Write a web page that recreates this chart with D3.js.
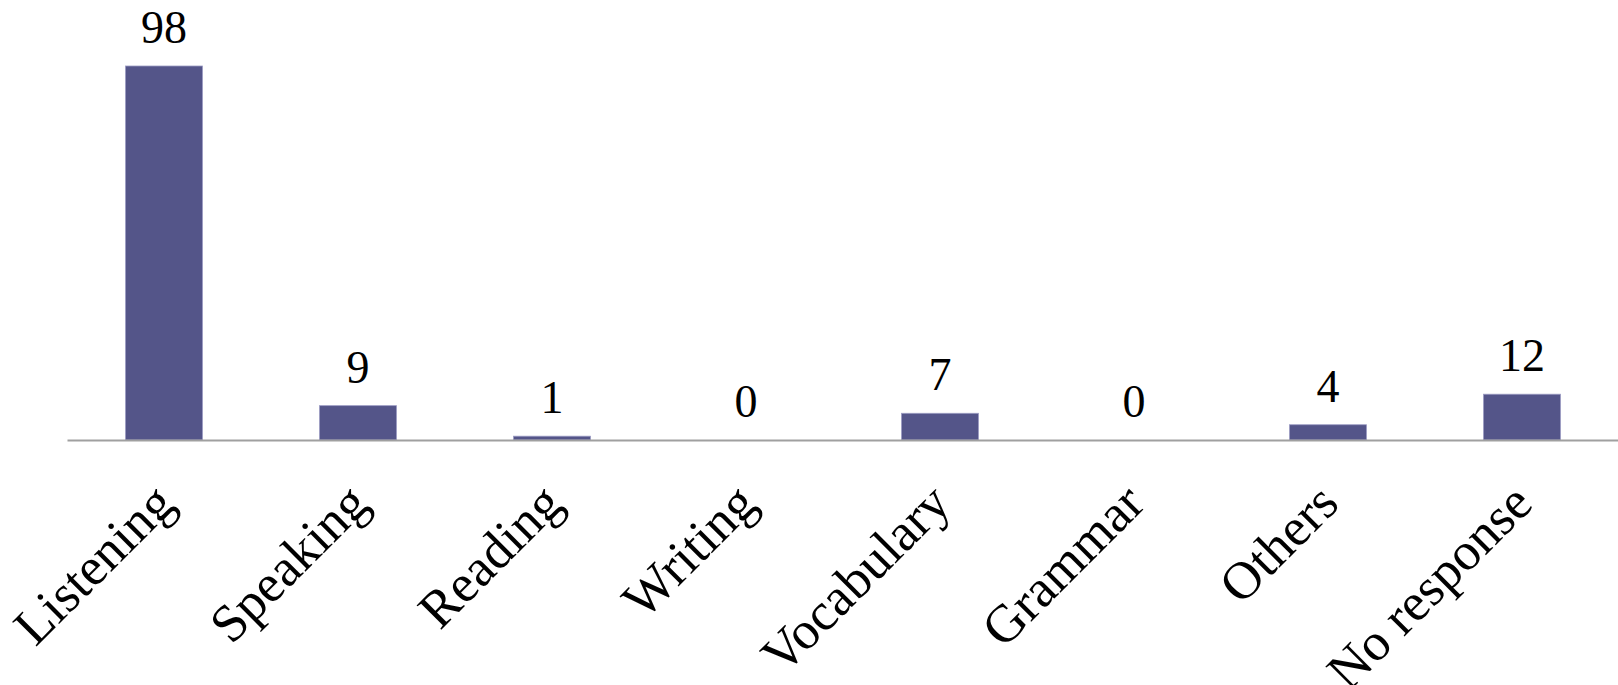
<!DOCTYPE html>
<html>
<head>
<meta charset="utf-8">
<script src="https://cdn.jsdelivr.net/npm/d3@7"></script>
<style>
  html, body { margin: 0; padding: 0; background: #ffffff; }
  svg { display: block; }
</style>
</head>
<body>
<div id="chart"></div>
<script>
const categories = ["Listening", "Speaking", "Reading", "Writing", "Vocabulary", "Grammar", "Others", "No response"];
const values = [98, 9, 1, 0, 7, 0, 4, 12];

const W = 1618, H = 685;
const axisY = 440, topY = 66;
const left = 67, right = 1619;

const svg = d3.select("#chart").append("svg")
  .attr("width", W).attr("height", H);

const x = d3.scaleBand()
  .domain(categories)
  .range([left, right])
  .paddingInner(0.603)
  .paddingOuter(0.3015);

const y = d3.scaleLinear()
  .domain([0, d3.max(values)])
  .range([axisY, topY]);

const data = categories.map((c, i) => ({ c, v: values[i] }));

// bars
svg.append("g").selectAll("rect")
  .data(data)
  .join("rect")
  .attr("x", d => x(d.c))
  .attr("y", d => y(d.v))
  .attr("width", x.bandwidth())
  .attr("height", d => y(0) - y(d.v))
  .attr("fill", "#545589")
  .attr("stroke", d => d.v > 0 ? "#9c9cc4" : "none")
  .attr("stroke-width", 0.8);

// axis line
const axis = d3.axisBottom(x).tickSize(0).tickFormat("");
svg.append("g")
  .attr("transform", `translate(0,${axisY})`)
  .call(axis)
  .call(g => g.select(".domain").attr("stroke", "#a0a0a0").attr("stroke-width", 2));

// value labels
svg.append("g").selectAll("text")
  .data(data)
  .join("text")
  .attr("x", d => x(d.c) + x.bandwidth() / 2)
  .attr("y", d => y(d.v) - 23)
  .attr("text-anchor", "middle")
  .attr("font-family", "'Liberation Serif', 'Times New Roman', serif")
  .attr("font-size", 46)
  .attr("fill", "#000")
  .text(d => d.v);

// category labels
svg.append("g").selectAll("text")
  .data(categories)
  .join("text")
  .attr("transform", c => `translate(${x(c) + x.bandwidth() / 2 + 13},${axisY + 66}) rotate(-45)`)
  .attr("text-anchor", "end")
  .attr("font-family", "'Liberation Serif', 'Times New Roman', serif")
  .attr("font-size", 53)
  .attr("fill", "#000")
  .text(c => c);
</script>
</body>
</html>
